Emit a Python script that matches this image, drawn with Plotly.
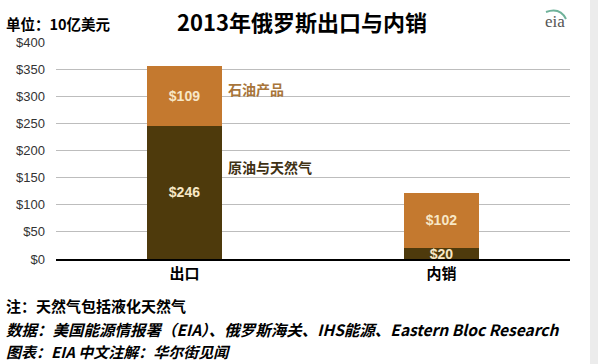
import plotly.graph_objects as go

categories = ["出口", "内销"]
crude_gas = [246, 20]
products = [109, 102]
crude_labels = ["$246", "$20"]
product_labels = ["$109", "$102"]
y_ticks = [0, 50, 100, 150, 200, 250, 300, 350, 400]
y_tick_labels = ["$0", "$50", "$100", "$150", "$200", "$250", "$300", "$350", "$400"]

DARK = "#4e3a0c"
ORANGE = "#c4792f"
LABEL_COLOR = "#f7e7c6"
CJK = "Noto Sans CJK SC"

fig = go.Figure()
fig.add_trace(go.Bar(
    x=categories, y=crude_gas, marker=dict(color=DARK, line=dict(width=0)),
    text=crude_labels, textposition="inside", insidetextanchor="middle",
    constraintext="none", textangle=0,
    textfont=dict(family="Liberation Sans", size=14, color=LABEL_COLOR, weight="bold"),
    width=0.288, hoverinfo="skip",
))
fig.add_trace(go.Bar(
    x=categories, y=products, marker=dict(color=ORANGE, line=dict(width=0)),
    text=product_labels, textposition="inside", insidetextanchor="middle",
    constraintext="none", textangle=0,
    textfont=dict(family="Liberation Sans", size=14, color=LABEL_COLOR, weight="bold"),
    width=0.288, hoverinfo="skip",
))

fig.update_layout(
    barmode="stack",
    width=598, height=364,
    margin=dict(l=56, r=28, t=42, b=105),
    paper_bgcolor="white", plot_bgcolor="white",
    showlegend=False,
    xaxis=dict(
        type="category", range=[-0.5, 1.5], showgrid=False,
        showline=True, linecolor="black", linewidth=1.5,
        ticks="", tickfont=dict(family=CJK, size=15, color="black", weight="bold"),
    ),
    yaxis=dict(
        range=[0, 400], tickvals=y_ticks, ticktext=y_tick_labels,
        showgrid=True, gridcolor="#bdbdbd", gridwidth=1,
        zeroline=False, showline=False, ticks="",
        tickfont=dict(family="Liberation Sans Narrow, Liberation Sans", size=13, color="#333333"),
        ticklabelstandoff=10,
    ),
    font=dict(family=CJK),
)


def px_x(px):
    return (px - 56) / 514


def px_y(px):
    return (259 - px) / 217


annotations = [
    dict(text="<b>2013年俄罗斯出口与内销</b>", xref="paper", yref="paper",
         x=px_x(302), y=px_y(21), xanchor="center", yanchor="middle",
         showarrow=False, font=dict(family=CJK, size=22, color="black")),
    dict(text="<b>单位：10亿美元</b>", xref="paper", yref="paper",
         x=px_x(4), y=px_y(24), xanchor="left", yanchor="middle",
         showarrow=False, font=dict(family=CJK, size=14.5, color="black")),
    dict(text="eia", xref="paper", yref="paper",
         x=px_x(555), y=px_y(21), xanchor="center", yanchor="middle",
         showarrow=False, font=dict(family="Liberation Serif", size=17, color="#555555")),
    dict(text="<b>石油产品</b>", xref="paper", yref="y",
         x=px_x(226), y=313, xanchor="left", yanchor="middle",
         showarrow=False, font=dict(family=CJK, size=14, color="#a8753a")),
    dict(text="<b>原油与天然气</b>", xref="paper", yref="y",
         x=px_x(226), y=170, xanchor="left", yanchor="middle",
         showarrow=False, font=dict(family=CJK, size=14, color="#3f3114")),
    dict(text="<b>注：天然气包括液化天然气</b>", xref="paper", yref="paper",
         x=px_x(4), y=px_y(305), xanchor="left", yanchor="middle",
         showarrow=False, font=dict(family=CJK, size=15, color="black")),
    dict(text="<b><i>数据：美国能源情报署（EIA）、俄罗斯海关、IHS能源、Eastern Bloc Research</i></b>",
         xref="paper", yref="paper",
         x=px_x(4), y=px_y(329), xanchor="left", yanchor="middle",
         showarrow=False, font=dict(family=CJK, size=15.5, color="black")),
    dict(text="<b><i>图表：EIA 中文注解：华尔街见闻</i></b>", xref="paper", yref="paper",
         x=px_x(4), y=px_y(351), xanchor="left", yanchor="middle",
         showarrow=False, font=dict(family=CJK, size=15, color="black")),
]
fig.update_layout(annotations=annotations)

# small arc of the eia logo
fig.add_shape(type="path", xref="paper", yref="paper",
              path="M {x0},{y0} Q {xc},{yc} {x1},{y1}".format(
                  x0=px_x(546), y0=px_y(12), xc=px_x(560), yc=px_y(7),
                  x1=px_x(566), y1=px_y(19)),
              line=dict(color="#6fb29a", width=2))
fig.add_shape(type="rect", xref="paper", yref="paper",
              x0=px_x(590), x1=px_x(600), y0=-0.5, y1=1.3,
              fillcolor="#ececec", line=dict(width=0), layer="below")

fig.write_html("out.html", config={"displayModeBar": False},
               post_script="document.body.style.margin='0';document.body.style.padding='0';document.documentElement.style.overflow='hidden';")
